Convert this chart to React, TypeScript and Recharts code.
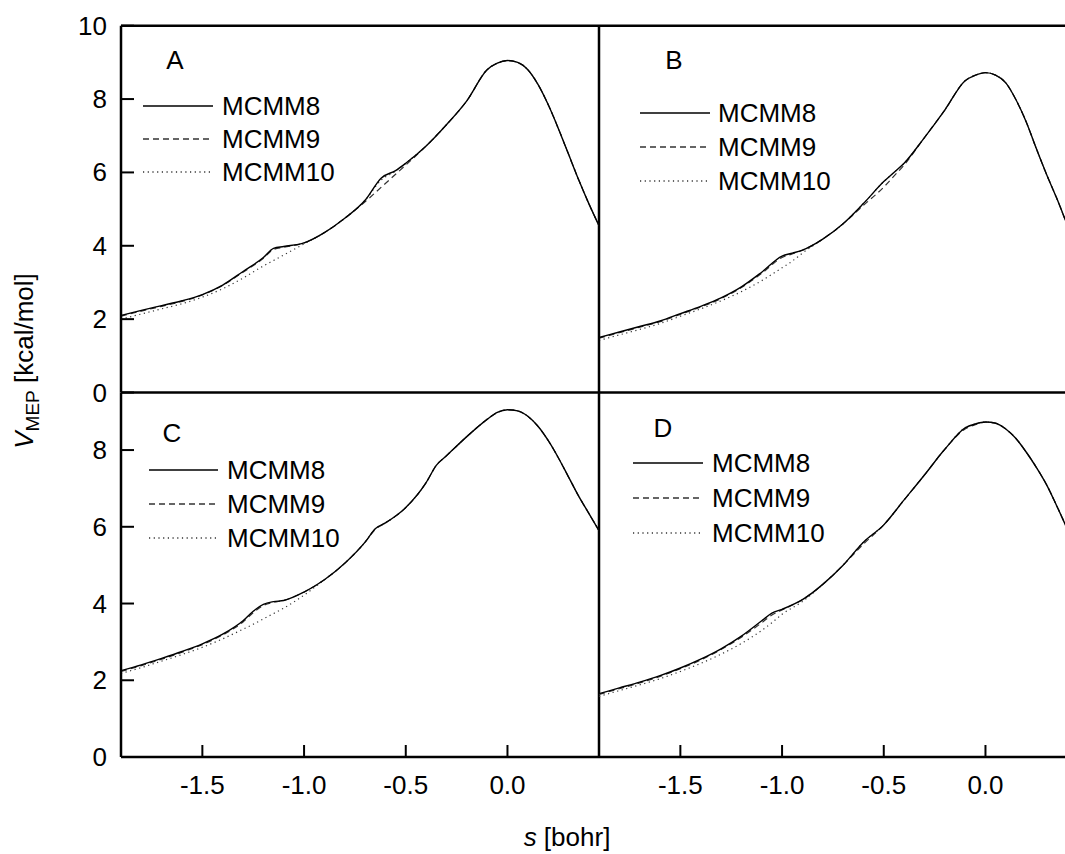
import { LineChart, Line, XAxis, YAxis, ReferenceLine, Legend } from 'recharts';

const seriesNames = ['MCMM8', 'MCMM9', 'MCMM10'];
const xTicks = [-1.5, -1.0, -0.5, 0.0];
const yTicksTop = [0, 2, 4, 6, 8, 10];
const yTicksBottom = [0, 2, 4, 6, 8];

// panel A
const sA = [-1.9, -1.8, -1.7, -1.6, -1.5, -1.4, -1.3, -1.2, -1.15, -1.1, -1.0, -0.9, -0.8, -0.7, -0.62, -0.55, -0.5, -0.4, -0.3, -0.2, -0.1, -0.05, 0, 0.05, 0.1, 0.15, 0.2, 0.25, 0.3, 0.35, 0.4, 0.45];
const a8 = [2.1, 2.24, 2.37, 2.5, 2.67, 2.93, 3.3, 3.68, 3.93, 3.98, 4.08, 4.36, 4.75, 5.24, 5.85, 6.05, 6.25, 6.72, 7.3, 7.95, 8.8, 8.98, 9.05, 9.0, 8.8, 8.4, 7.85, 7.2, 6.5, 5.8, 5.15, 4.55];
const a9 = [2.08, 2.22, 2.35, 2.48, 2.66, 2.92, 3.28, 3.66, 3.9, 3.96, 4.08, 4.36, 4.75, 5.2, 5.6, 5.95, 6.2, 6.72, 7.3, 7.95, 8.8, 8.98, 9.05, 9.0, 8.8, 8.4, 7.85, 7.2, 6.5, 5.8, 5.15, 4.55];
const a10 = [2.0, 2.14, 2.28, 2.42, 2.6, 2.83, 3.12, 3.45, 3.6, 3.75, 4.05, 4.36, 4.75, 5.24, 5.8, 6.03, 6.25, 6.72, 7.3, 7.95, 8.8, 8.98, 9.05, 9.0, 8.8, 8.4, 7.85, 7.2, 6.5, 5.8, 5.15, 4.55];

// panel B
const sB = [-1.9, -1.8, -1.7, -1.6, -1.5, -1.4, -1.3, -1.2, -1.1, -1.0, -0.95, -0.9, -0.8, -0.7, -0.6, -0.5, -0.45, -0.4, -0.3, -0.2, -0.1, -0.05, 0, 0.05, 0.1, 0.15, 0.2, 0.25, 0.3, 0.35, 0.4, 0.45];
const b8 = [1.5, 1.65, 1.8, 1.95, 2.15, 2.35, 2.58, 2.88, 3.28, 3.72, 3.8, 3.88, 4.18, 4.6, 5.15, 5.75, 6.0, 6.25, 6.95, 7.7, 8.5, 8.65, 8.72, 8.65, 8.44, 7.98, 7.38, 6.65, 5.95, 5.3, 4.6, 3.9];
const b9 = [1.48, 1.63, 1.78, 1.93, 2.13, 2.33, 2.56, 2.86, 3.25, 3.68, 3.78, 3.88, 4.18, 4.6, 5.1, 5.6, 5.9, 6.2, 6.95, 7.7, 8.5, 8.65, 8.72, 8.65, 8.44, 7.98, 7.38, 6.65, 5.95, 5.3, 4.6, 3.9];
const b10 = [1.42, 1.57, 1.72, 1.88, 2.08, 2.28, 2.5, 2.75, 3.05, 3.4, 3.58, 3.8, 4.18, 4.6, 5.15, 5.75, 6.0, 6.25, 6.95, 7.7, 8.5, 8.65, 8.72, 8.65, 8.44, 7.98, 7.38, 6.65, 5.95, 5.3, 4.6, 3.9];

// panel C
const sC = [-1.9, -1.8, -1.7, -1.6, -1.5, -1.4, -1.3, -1.25, -1.2, -1.15, -1.1, -1.0, -0.9, -0.8, -0.7, -0.65, -0.6, -0.5, -0.4, -0.35, -0.3, -0.2, -0.1, -0.05, 0, 0.05, 0.1, 0.15, 0.2, 0.25, 0.3, 0.35, 0.4, 0.45];
const c8 = [2.25, 2.4, 2.57, 2.75, 2.95, 3.2, 3.55, 3.8, 3.98, 4.05, 4.08, 4.3, 4.62, 5.05, 5.6, 5.95, 6.1, 6.5, 7.15, 7.6, 7.85, 8.35, 8.8, 8.98, 9.05, 9.02, 8.88, 8.62, 8.25, 7.8, 7.3, 6.8, 6.35, 5.9];
const c9 = [2.23, 2.38, 2.55, 2.73, 2.93, 3.18, 3.52, 3.76, 3.95, 4.03, 4.08, 4.3, 4.62, 5.05, 5.6, 5.93, 6.1, 6.5, 7.15, 7.6, 7.85, 8.35, 8.8, 8.98, 9.05, 9.02, 8.88, 8.62, 8.25, 7.8, 7.3, 6.8, 6.35, 5.9];
const c10 = [2.18, 2.33, 2.5, 2.67, 2.86, 3.08, 3.33, 3.46, 3.6, 3.74, 3.88, 4.22, 4.62, 5.05, 5.6, 5.95, 6.1, 6.5, 7.15, 7.6, 7.85, 8.35, 8.8, 8.98, 9.05, 9.02, 8.88, 8.62, 8.25, 7.8, 7.3, 6.8, 6.35, 5.9];

// panel D
const sD = [-1.9, -1.8, -1.7, -1.6, -1.5, -1.4, -1.3, -1.2, -1.1, -1.05, -1.0, -0.9, -0.8, -0.7, -0.6, -0.5, -0.4, -0.3, -0.2, -0.1, -0.05, 0, 0.05, 0.1, 0.15, 0.2, 0.25, 0.3, 0.35, 0.4, 0.45];
const d8 = [1.65, 1.8, 1.95, 2.12, 2.32, 2.55, 2.82, 3.15, 3.55, 3.75, 3.85, 4.1, 4.5, 5.0, 5.6, 6.05, 6.7, 7.35, 8.02, 8.58, 8.68, 8.73, 8.7, 8.55, 8.3, 7.95, 7.55, 7.1, 6.55, 5.96, 5.3];
const d9 = [1.63, 1.78, 1.93, 2.1, 2.3, 2.53, 2.8, 3.12, 3.5, 3.7, 3.83, 4.1, 4.5, 5.0, 5.55, 6.05, 6.7, 7.35, 8.02, 8.55, 8.66, 8.73, 8.7, 8.55, 8.3, 7.95, 7.55, 7.1, 6.55, 5.96, 5.3];
const d10 = [1.58, 1.73, 1.88, 2.04, 2.23, 2.44, 2.68, 2.96, 3.3, 3.5, 3.72, 4.05, 4.5, 5.0, 5.6, 6.05, 6.7, 7.35, 8.02, 8.58, 8.68, 8.73, 8.7, 8.55, 8.3, 7.95, 7.55, 7.1, 6.55, 5.96, 5.3];

const toRows = (s: number[], m8: number[], m9: number[], m10: number[]) =>
  s.map((x, i) => ({ s: x, m8: m8[i], m9: m9[i], m10: m10[i] }));

const FONT = '"Liberation Sans", Arial, sans-serif';
const dashes = [undefined, '6 4', '1.2 3.5'];
const keys = ['m8', 'm9', 'm10'];

function BottomTick(props: any) {
  const { x, y, payload, showLabel } = props;
  return (
    <g>
      <line x1={x} y1={y} x2={x} y2={y - 12} stroke='#000' strokeWidth={2} />
      {showLabel && (
        <text x={x} y={y + 37} textAnchor='middle' fontSize={26} fontFamily={FONT} fill='#000'>
          {Number(payload.value).toFixed(1)}
        </text>
      )}
    </g>
  );
}

function LeftTick(props: any) {
  const { x, y, payload, showLabel } = props;
  return (
    <g>
      <line x1={x} y1={y} x2={x + 13} y2={y} stroke='#000' strokeWidth={2} />
      {showLabel && (
        <text x={x - 14} y={y + 9} textAnchor='end' fontSize={26} fontFamily={FONT} fill='#000'>
          {payload.value}
        </text>
      )}
    </g>
  );
}

type Key = { letter: string; lx: number; ly: number; x1: number; x2: number; tx: number; rows: number[] };

function PanelKey({ k }: { k: Key }) {
  return (
    <svg width={320} height={200} style={{ position: 'absolute', left: 0, top: 0, overflow: 'visible' }}>
      <text x={k.lx} y={k.ly + 9} textAnchor='middle' fontSize={26} fontFamily={FONT}>
        {k.letter}
      </text>
      {seriesNames.map((name, i) => (
        <g key={name}>
          <line x1={k.x1} x2={k.x2} y1={k.rows[i]} y2={k.rows[i]} stroke={i === 0 ? '#000' : '#333'} strokeWidth={1.3} strokeDasharray={dashes[i]} />
          <text x={k.tx} y={k.rows[i] + 9} fontSize={26} fontFamily={FONT}>
            {name}
          </text>
        </g>
      ))}
    </svg>
  );
}

type PanelProps = {
  data: any[];
  left: number;
  top: number;
  width: number;
  height: number;
  margin: any;
  yWidth: number;
  xHeight: number;
  yMax: number;
  yTicks: number[];
  showX: boolean;
  showY: boolean;
  keyInfo: Key;
};

function Panel(p: PanelProps) {
  return (
    <div style={{ position: 'absolute', left: p.left, top: p.top }}>
      <LineChart width={p.width} height={p.height} data={p.data} margin={p.margin} style={{ overflow: 'visible' }}>
        <XAxis
          dataKey='s'
          type='number'
          domain={[-1.9, 0.45]}
          ticks={xTicks}
          interval={0}
          allowDataOverflow
          height={p.xHeight}
          tickSize={0}
          tickMargin={0}
          tickLine={false}
          axisLine={{ stroke: '#000', strokeWidth: 2.5 }}
          tick={<BottomTick showLabel={p.showX} />}
        />
        <YAxis
          type='number'
          domain={[0, p.yMax]}
          ticks={p.yTicks}
          interval={0}
          allowDataOverflow
          width={p.yWidth}
          tickSize={0}
          tickMargin={0}
          tickLine={false}
          axisLine={{ stroke: '#000', strokeWidth: 2.5 }}
          tick={<LeftTick showLabel={p.showY} />}
        />
        <ReferenceLine y={p.yMax} stroke='#000' strokeWidth={2.5} />
        <ReferenceLine x={0.45} stroke='#000' strokeWidth={2.5} />
        <Legend
          layout='horizontal'
          verticalAlign='middle'
          align='center'
          wrapperStyle={{ left: 0, top: 0, width: 0, height: 0, overflow: 'visible' }}
          content={() => <PanelKey k={p.keyInfo} />}
        />
        {[2, 1, 0].map((i) => (
          <Line
            key={keys[i]}
            type='monotone'
            dataKey={keys[i]}
            name={seriesNames[i]}
            stroke={i === 0 ? '#000' : '#333'}
            strokeWidth={i === 0 ? 1.4 : 1.2}
            strokeDasharray={dashes[i]}
            dot={false}
            activeDot={false}
            isAnimationActive={false}
          />
        ))}
      </LineChart>
    </div>
  );
}

export default function App() {
  const topMargin = { top: 25.7, right: 21, bottom: 27.5, left: 0 };
  const topMarginR = { top: 25.7, right: 21, bottom: 27.5, left: 21 };
  const botMargin = { top: 7.5, right: 21, bottom: 0, left: 0 };
  const botMarginR = { top: 7.5, right: 21, bottom: 0, left: 21 };
  return (
    <div
      style={{
        position: 'absolute',
        left: 0,
        top: 0,
        width: 1065,
        height: 854,
        overflow: 'hidden',
        background: '#fff',
        fontFamily: FONT,
      }}
    >
      <Panel data={toRows(sB, b8, b9, b10)} left={578} top={0} width={520} height={420} margin={topMarginR} yWidth={0} xHeight={0} yMax={10} yTicks={yTicksTop} showX={false} showY={false}
        keyInfo={{ letter: 'B', lx: 96, ly: 60, x1: 62, x2: 132, tx: 140, rows: [113, 147, 181] }} />
      <Panel data={toRows(sC, c8, c9, c10)} left={0} top={385} width={620} height={420} margin={botMargin} yWidth={121} xHeight={48} yMax={9.5} yTicks={yTicksBottom} showX={true} showY={true}
        keyInfo={{ letter: 'C', lx: 172, ly: 48, x1: 149, x2: 218, tx: 227, rows: [85, 119, 153] }} />
      <Panel data={toRows(sD, d8, d9, d10)} left={578} top={385} width={520} height={420} margin={botMarginR} yWidth={0} xHeight={48} yMax={9.5} yTicks={yTicksBottom} showX={true} showY={false}
        keyInfo={{ letter: 'D', lx: 85, ly: 43, x1: 55, x2: 125, tx: 134, rows: [78, 113, 148] }} />
      <Panel data={toRows(sA, a8, a9, a10)} left={0} top={0} width={620} height={420} margin={topMargin} yWidth={121} xHeight={0} yMax={10} yTicks={yTicksTop} showX={false} showY={true}
        keyInfo={{ letter: 'A', lx: 175, ly: 60, x1: 143, x2: 213, tx: 222, rows: [106, 139, 172] }} />
      <svg width={1065} height={854} style={{ position: 'absolute', left: 0, top: 0, pointerEvents: 'none' }}>
        <text transform='rotate(-90, 33, 361)' x={33} y={361} textAnchor='middle' fontSize={26} fontFamily={FONT}>
          <tspan fontStyle='italic'>V</tspan>
          <tspan fontSize={19} dy={6}>MEP</tspan>
          <tspan dy={-6}> [kcal/mol]</tspan>
        </text>
        <text x={567} y={846} textAnchor='middle' fontSize={26} fontFamily={FONT}>
          <tspan fontStyle='italic'>s</tspan> [bohr]
        </text>
      </svg>
    </div>
  );
}
